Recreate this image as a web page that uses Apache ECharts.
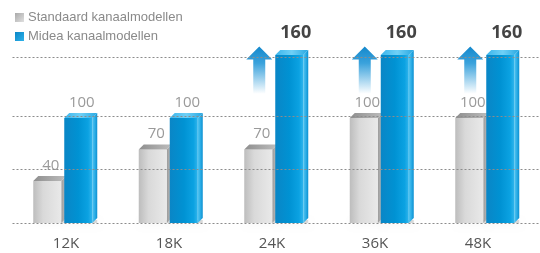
<!DOCTYPE html>
<html lang="en">

<head>
    <meta charset="UTF-8">
    <title>Kanaalmodellen</title>
    <script src="https://cdn.jsdelivr.net/npm/echarts@6.0.0/dist/echarts.min.js"></script>
    <style>
        html, body { margin: 0; padding: 0; background: #fff; }
    </style>
</head>

<body>
    <div id="main" style="width: 540px;height:253px;"></div>
    <script type="text/javascript">
        const categories = ['12K', '18K', '24K', '36K', '48K'];
        const standaard = [40, 70, 70, 100, 100];
        const midea = [100, 100, 160, 160, 160];
        // up arrows drawn above the grey bars (value range)
        const arrowFrom = [null, null, 123, 123, 123];
        const arrowTo = [null, null, 168, 168, 168];
        const gridValues = [0, 51, 102, 158];

        const greyFront = new echarts.graphic.LinearGradient(0, 0, 1, 0, [
            { offset: 0, color: '#bdbdbd' },
            { offset: 0.35, color: '#d9d9d9' },
            { offset: 1, color: '#e9e9e9' }
        ]);
        const greySide = new echarts.graphic.LinearGradient(0, 0, 1, 0, [
            { offset: 0, color: '#9a9a9a' },
            { offset: 1, color: '#c4c4c4' }
        ]);
        const greyTop = new echarts.graphic.LinearGradient(0, 0, 1, 0, [
            { offset: 0, color: '#8e8e8e' },
            { offset: 1, color: '#bdbdbd' }
        ]);
        const blueFront = new echarts.graphic.LinearGradient(0, 0, 1, 0, [
            { offset: 0, color: '#0a86c6' },
            { offset: 0.5, color: '#0092d3' },
            { offset: 0.85, color: '#0ba2e2' },
            { offset: 1, color: '#30b4ec' }
        ]);
        const blueSide = new echarts.graphic.LinearGradient(0, 0, 1, 0, [
            { offset: 0, color: '#55c6f2' },
            { offset: 0.6, color: '#25a9e4' },
            { offset: 1, color: '#0c8fcf' }
        ]);
        const blueTop = new echarts.graphic.LinearGradient(0, 0, 1, 0, [
            { offset: 0, color: '#3cb6ec' },
            { offset: 0.5, color: '#6fd0f6' },
            { offset: 1, color: '#28a8e2' }
        ]);

        function bar3d(shift, front, side, topFace) {
            return function (params, api) {
                const idx = api.value(0);
                const val = api.value(1);
                const base = api.coord([idx, 0]);
                const top = api.coord([idx, val]);
                const w = 28, dx = 5, dy = 5;
                const x0 = base[0] + shift;
                const y0 = top[1];
                const big = val >= 160;
                return {
                    type: 'group',
                    children: [
                        {
                            type: 'rect',
                            shape: { x: x0 + 3, y: base[1] - 3, width: w + 2, height: 3 },
                            style: { fill: 'rgba(0,0,0,0.15)', shadowBlur: 6, shadowColor: 'rgba(0,0,0,0.25)', shadowOffsetY: 2 }
                        },
                        {
                            type: 'polygon',
                            shape: { points: [[x0 + w, y0], [x0 + w + dx, y0 - dy], [x0 + w + dx, base[1] - dy], [x0 + w, base[1]]] },
                            style: { fill: side }
                        },
                        {
                            type: 'rect',
                            shape: { x: x0, y: y0, width: w, height: base[1] - y0 },
                            style: { fill: front }
                        },
                        {
                            type: 'polygon',
                            shape: { points: [[x0, y0], [x0 + dx, y0 - dy], [x0 + w + dx, y0 - dy], [x0 + w, y0]] },
                            style: { fill: topFace }
                        },
                        {
                            type: 'text',
                            style: {
                                text: String(val),
                                x: x0 + w / 2 + dx / 2 + (big ? 4 : 1),
                                y: y0 - dy - (big ? 8 : 3),
                                align: 'center',
                                verticalAlign: 'bottom',
                                fill: big ? '#444' : '#9a9a9a',
                                font: big ? 'bold 18px "Open Sans", sans-serif' : '15px "Open Sans", sans-serif'
                            }
                        }
                    ]
                };
            };
        }

        function arrowItem(params, api) {
            const idx = api.value(0);
            const lo = api.coord([idx, api.value(1)]);
            const hi = api.coord([idx, api.value(2)]);
            const cx = lo[0] - 17;
            const headW = 13, shaftW = 6, headH = 13;
            return {
                type: 'polygon',
                shape: {
                    points: [
                        [cx, hi[1]], [cx + headW, hi[1] + headH], [cx + shaftW, hi[1] + headH],
                        [cx + shaftW, lo[1]], [cx - shaftW, lo[1]], [cx - shaftW, hi[1] + headH],
                        [cx - headW, hi[1] + headH]
                    ]
                },
                style: {
                    fill: new echarts.graphic.LinearGradient(0, 0, 0, 1, [
                        { offset: 0, color: '#1488cc' },
                        { offset: 0.35, color: '#3aa2dc' },
                        { offset: 1, color: '#ffffff' }
                    ])
                }
            };
        }

        const arrowData = [];
        categories.forEach((c, i) => {
            if (arrowFrom[i] != null) arrowData.push([i, arrowFrom[i], arrowTo[i]]);
        });

        let myChart = echarts.init(document.getElementById('main'));

        let options = {
            animation: false,
            legend: {
                data: ['Standaard kanaalmodellen', 'Midea kanaalmodellen'],
                orient: 'vertical',
                left: 10,
                top: 6,
                itemWidth: 9,
                itemHeight: 9,
                itemGap: 6,
                icon: 'rect',
                textStyle: { color: '#8a8a8a', fontSize: 13, fontFamily: '"Liberation Sans", Arial, sans-serif', padding: [0, 0, 0, -1] }
            },
            grid: [
                { left: 12.5, width: 535, top: 13, bottom: 30 },
                { left: 14.5, width: 515, top: 13, bottom: 30 }
            ],
            xAxis: [
                {
                    type: 'category',
                    data: categories,
                    axisLine: { show: false },
                    axisTick: { show: false },
                    axisLabel: { show: false }
                },
                {
                    type: 'category',
                    gridIndex: 1,
                    data: categories,
                    axisLine: { show: false },
                    axisTick: { show: false },
                    axisLabel: { color: '#555', fontSize: 15, margin: 13, fontFamily: '"Open Sans", sans-serif' }
                }
            ],
            yAxis: [
                { type: 'value', min: 0, max: 200, show: false, splitLine: { show: false } },
                { type: 'value', gridIndex: 1, min: 0, max: 200, show: false, splitLine: { show: false } }
            ],
            series: [
                {
                    type: 'line',
                    data: [],
                    silent: true,
                    markLine: {
                        silent: true,
                        symbol: 'none',
                        label: { show: false },
                        lineStyle: { color: '#8c8c8c', type: [2, 2], width: 1 },
                        data: gridValues.map(v => ({ yAxis: v }))
                    }
                },
                {
                    name: 'Standaard kanaalmodellen',
                    type: 'custom',
                    renderItem: bar3d(-32, greyFront, greySide, greyTop),
                    itemStyle: { color: new echarts.graphic.LinearGradient(0, 0, 1, 1, [
                        { offset: 0, color: '#a9a9a9' }, { offset: 1, color: '#e0e0e0' }
                    ]) },
                    encode: { x: 0, y: 1 },
                    data: standaard.map((v, i) => [i, v])
                },
                {
                    name: 'Midea kanaalmodellen',
                    type: 'custom',
                    renderItem: bar3d(-1, blueFront, blueSide, blueTop),
                    itemStyle: { color: new echarts.graphic.LinearGradient(0, 0, 1, 1, [
                        { offset: 0, color: '#0a86c6' }, { offset: 1, color: '#2eb2ea' }
                    ]) },
                    encode: { x: 0, y: 1 },
                    data: midea.map((v, i) => [i, v])
                },
                {
                    type: 'custom',
                    renderItem: arrowItem,
                    encode: { x: 0, y: [1, 2] },
                    data: arrowData
                }
            ]
        };

        myChart.setOption(options);
    </script>
</body>

</html>
